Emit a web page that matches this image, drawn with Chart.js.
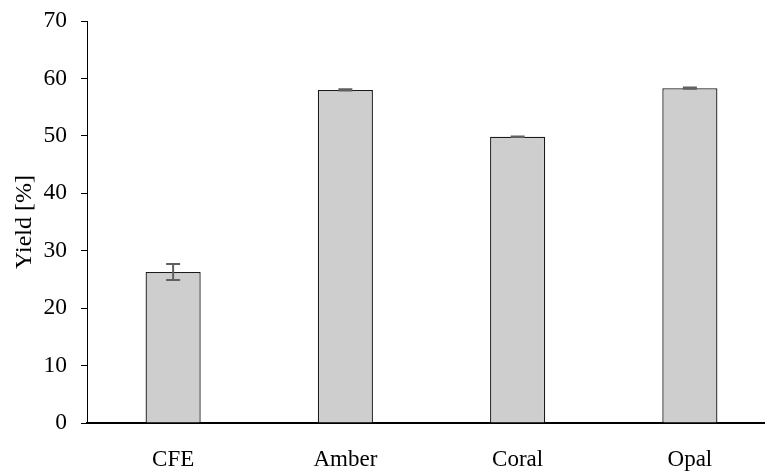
<!DOCTYPE html>
<html>
<head>
<meta charset="utf-8">
<script src="https://cdn.jsdelivr.net/npm/chart.js@4/dist/chart.umd.min.js"></script>
<style>
html,body{margin:0;padding:0;background:#fff;overflow:hidden;}
#wrap{width:765px;height:471px;overflow:hidden;position:relative;}
#box{width:776px;height:471px;position:absolute;left:0;top:0;}
</style>
</head>
<body>
<div id="wrap"><div id="box"><canvas id="c"></canvas></div></div>
<script>
const categories = ["CFE", "Amber", "Coral", "Opal"];
const yieldValues = [26.3, 58.0, 49.85, 58.3];
const yieldErrors = [1.4, 0.1, 0.05, 0.1];
const yTicks = [0, 10, 20, 30, 40, 50, 60, 70];

const errorBars = {
  id: 'errorBars',
  afterDatasetsDraw(chart) {
    const ctx = chart.ctx;
    const meta = chart.getDatasetMeta(0);
    const ys = chart.scales.y;
    ctx.save();
    ctx.strokeStyle = '#606060';
    ctx.lineWidth = 2;
    meta.data.forEach((bar, i) => {
      const v = yieldValues[i], e = yieldErrors[i];
      const yTop = ys.getPixelForValue(v + e);
      const yBot = ys.getPixelForValue(v - e);
      const x = bar.x;
      const cap = 7;
      ctx.beginPath();
      ctx.moveTo(x, yTop); ctx.lineTo(x, yBot);
      ctx.moveTo(x - cap, yTop); ctx.lineTo(x + cap, yTop);
      ctx.moveTo(x - cap, yBot); ctx.lineTo(x + cap, yBot);
      ctx.stroke();
    });
    ctx.restore();
  }
};

new Chart(document.getElementById('c'), {
  type: 'bar',
  data: {
    labels: categories,
    datasets: [{
      data: yieldValues,
      backgroundColor: '#cfcecf',
      borderColor: '#1a1a1a',
      borderWidth: 1.3,
      borderSkipped: 'bottom',
      barPercentage: 0.32,
      categoryPercentage: 1.0
    }]
  },
  options: {
    responsive: true,
    maintainAspectRatio: false,
    animation: false,
    layout: { padding: { top: 21, right: 0, left: 6, bottom: 0 } },
    plugins: { legend: { display: false }, tooltip: { enabled: false } },
    scales: {
      x: {
        afterFit(scale) { scale.height = 48; scale.paddingLeft = 0; scale.paddingRight = 0; },
        grid: { display: false },
        border: { display: true, color: '#000', width: 2 },
        ticks: { color: '#000', padding: 15, font: { family: 'Liberation Serif', size: 23 } }
      },
      y: {
        min: 0, max: 70,
        afterFit(scale) { scale.width = 81; scale.paddingTop = 0; scale.paddingBottom = 0; },
        afterBuildTicks(scale) { scale.ticks = yTicks.map(v => ({ value: v })); },
        grid: { drawOnChartArea: false, drawTicks: true, tickLength: 6, tickColor: '#000' },
        border: { display: true, color: '#000', width: 1 },
        ticks: { color: '#000', padding: 14, font: { family: 'Liberation Serif', size: 23.5 } },
        title: { display: true, text: 'Yield [%]', color: '#000', padding: { top: 4, bottom: 4 }, font: { family: 'Liberation Serif', size: 24 } }
      }
    }
  },
  plugins: [errorBars]
});
</script>
</body>
</html>
